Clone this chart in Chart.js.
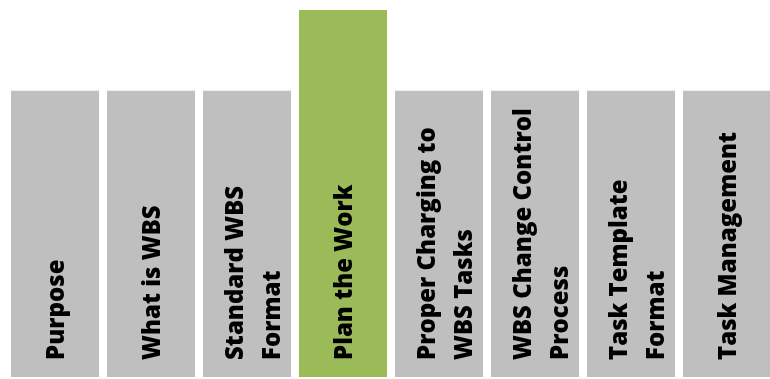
<!DOCTYPE html>
<html lang="en">
<head>
    <meta charset="UTF-8">
    <title>WBS Topics</title>
    <script src="https://cdn.jsdelivr.net/npm/chart.js"></script>
    <style>
        html, body { margin: 0; padding: 0; background: #fff; overflow: hidden; }
        #wrap { width: 775px; height: 379px; }
    </style>
</head>
<body>
    <div id="wrap">
        <canvas id="topicChart" width="775" height="379"></canvas>
    </div>

    <script>
        // topics (each entry = lines of the label)
        const topics = [
            ["Purpose"],
            ["What is WBS"],
            ["Standard WBS", "Format"],
            ["Plan the Work"],
            ["Proper Charging to", "WBS Tasks"],
            ["WBS Change Control", "Process"],
            ["Task Template", "Format"],
            ["Task Management"]
        ];
        // bar heights (relative, no axis shown)
        const barValues = [78, 78, 78, 100, 78, 78, 78, 78];
        const barColors = ["#bfbfbf", "#bfbfbf", "#bfbfbf", "#9bbb59", "#bfbfbf", "#bfbfbf", "#bfbfbf", "#bfbfbf"];

        // draw the rotated labels inside each bar
        const barLabels = {
            id: "barLabels",
            afterDatasetsDraw(chart) {
                const ctx = chart.ctx;
                const meta = chart.getDatasetMeta(0);
                ctx.save();
                ctx.font = "800 24px 'Open Sans'";
                ctx.fillStyle = "#000";
                ctx.textAlign = "left";
                ctx.textBaseline = "middle";
                meta.data.forEach((bar, i) => {
                    const lines = topics[i];
                    const offsets = lines.length === 1 ? [0] : [-13, 24];
                    lines.forEach((line, j) => {
                        ctx.save();
                        ctx.translate(bar.x + offsets[j] + 2, 360);
                        ctx.rotate(-Math.PI / 2);
                        ctx.fillText(line, 0, 0);
                        ctx.restore();
                    });
                });
                ctx.restore();
            }
        };

        const ctx = document.getElementById("topicChart").getContext("2d");
        new Chart(ctx, {
            type: "bar",
            data: {
                labels: topics.map(t => t.join(" ")),
                datasets: [{
                    data: barValues,
                    backgroundColor: barColors,
                    borderWidth: 0,
                    barPercentage: 88 / 96,
                    categoryPercentage: 1
                }]
            },
            options: {
                responsive: false,
                animation: false,
                layout: { padding: { left: 7, right: 0, top: 10, bottom: 2 } },
                plugins: {
                    legend: { display: false },
                    tooltip: { enabled: false }
                },
                scales: {
                    x: { display: false },
                    y: { display: false, min: 0, max: 100 }
                }
            },
            plugins: [barLabels]
        });
    </script>
</body>
</html>
